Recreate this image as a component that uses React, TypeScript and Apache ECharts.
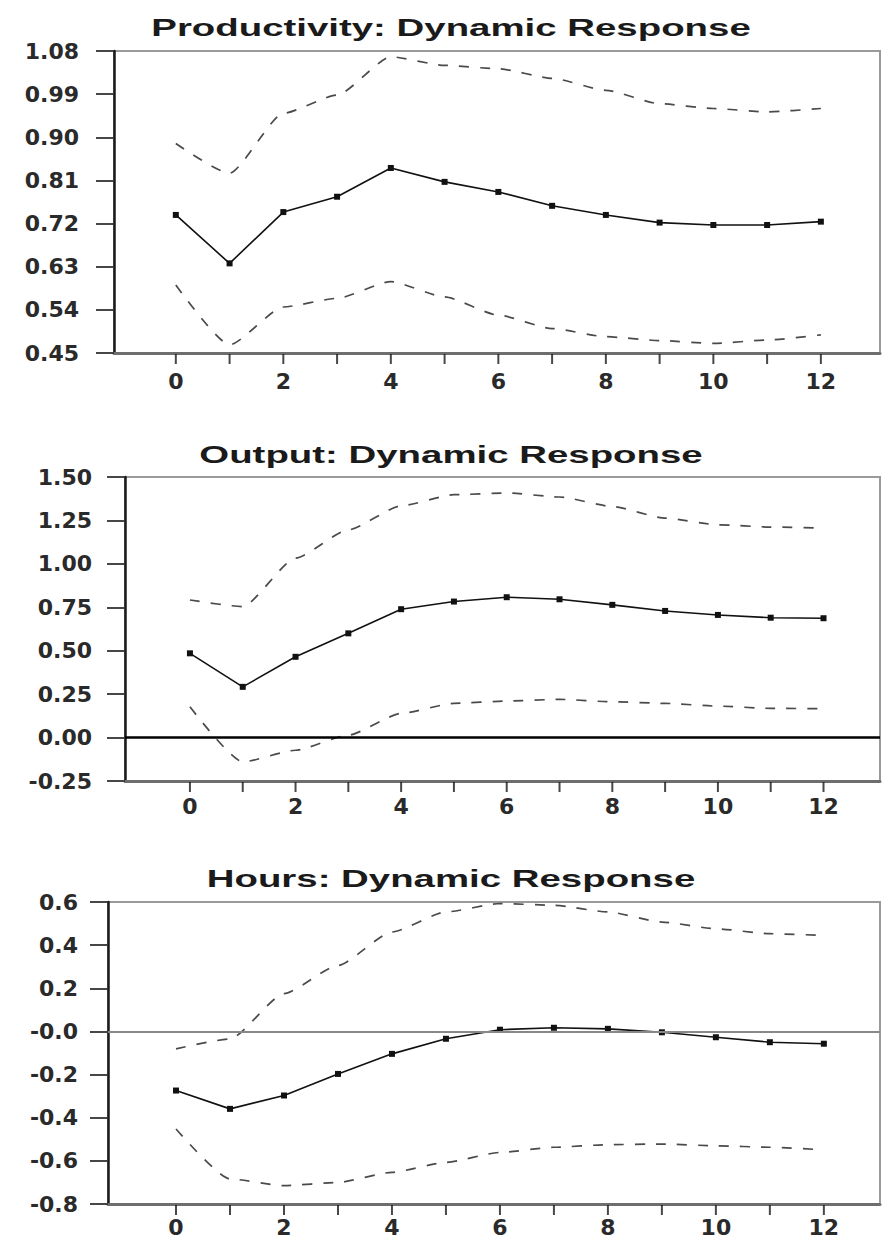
import React, { useEffect, useRef } from "react";
import * as echarts from "echarts";

// Horizon (quarters)
const periods = [0, 1, 2, 3, 4, 5, 6, 7, 8, 9, 10, 11, 12];
const xTickValues = [0, 1, 2, 3, 4, 5, 6, 7, 8, 9, 10, 11, 12];
const xLabelValues = [0, 2, 4, 6, 8, 10, 12];

// Panel 1: Productivity
const prodTitle = "Productivity: Dynamic Response";
const prodResponse = [0.738, 0.637, 0.744, 0.776, 0.836, 0.807, 0.786, 0.757, 0.738, 0.722, 0.717, 0.717, 0.724];
const prodUpper = [0.887, 0.825, 0.95, 0.988, 1.068, 1.05, 1.043, 1.023, 0.998, 0.97, 0.96, 0.953, 0.96];
const prodLower = [0.592, 0.467, 0.546, 0.564, 0.599, 0.567, 0.529, 0.501, 0.484, 0.476, 0.47, 0.477, 0.488];
const prodYTicks = [0.45, 1.08, 0.09]; // min, max, step

// Panel 2: Output
const outTitle = "Output: Dynamic Response";
const outResponse = [0.485, 0.292, 0.465, 0.6, 0.739, 0.783, 0.808, 0.796, 0.764, 0.729, 0.706, 0.69, 0.687];
const outUpper = [0.792, 0.754, 1.033, 1.196, 1.334, 1.398, 1.408, 1.385, 1.33, 1.263, 1.225, 1.212, 1.206];
const outLower = [0.177, -0.14, -0.073, 0.014, 0.139, 0.197, 0.21, 0.22, 0.206, 0.197, 0.181, 0.168, 0.166];
const outYTicks = [-0.25, 1.5, 0.25];

// Panel 3: Hours
const hoursTitle = "Hours: Dynamic Response";
const hoursResponse = [-0.274, -0.359, -0.297, -0.197, -0.104, -0.034, 0.008, 0.017, 0.012, -0.004, -0.027, -0.05, -0.057];
const hoursUpper = [-0.081, -0.035, 0.175, 0.306, 0.461, 0.554, 0.593, 0.585, 0.554, 0.507, 0.476, 0.453, 0.445];
const hoursLower = [-0.452, -0.684, -0.715, -0.7, -0.653, -0.607, -0.561, -0.537, -0.525, -0.522, -0.53, -0.537, -0.549];
const hoursYTicks = [-0.8, 0.6, 0.2];

const FONT = "DejaVu Sans";

export default function App() {
  const ref = useRef<HTMLDivElement>(null);

  useEffect(() => {
    if (!ref.current) return;
    const chart = echarts.init(ref.current, undefined, { renderer: "svg" });

    const panels = [
      {
        title: prodTitle, titleY: 28, resp: prodResponse, up: prodUpper, lo: prodLower, yt: prodYTicks,
        left: 114, top: 51, height: 302, xMin: -1.15, xMax: 13.1, yMargin: 35, xMargin: 17, decimals: 2, zero: null as null | { color: string; width: number },
      },
      {
        title: outTitle, titleY: 455, resp: outResponse, up: outUpper, lo: outLower, yt: outYTicks,
        left: 125, top: 477, height: 304, xMin: -1.23, xMax: 13.07, yMargin: 33, xMargin: 14, decimals: 2, zero: { color: "#000", width: 2.5 },
      },
      {
        title: hoursTitle, titleY: 879, resp: hoursResponse, up: hoursUpper, lo: hoursLower, yt: hoursYTicks,
        left: 108, top: 902, height: 302, xMin: -1.26, xMax: 13.04, yMargin: 30, xMargin: 12, decimals: 1, zero: { color: "#888", width: 2 },
      },
    ];

    const grid = panels.map((p) => ({
      left: p.left,
      top: p.top,
      width: 880 - p.left,
      height: p.height,
      show: true,
      borderColor: "#9a9a9a",
      borderWidth: 2,
      backgroundColor: "transparent",
    }));

    const xAxis = panels.map((p, i) => ({
      gridIndex: i,
      type: "value",
      min: p.xMin,
      max: p.xMax,
      splitLine: { show: false },
      axisLine: { show: true, onZero: false, lineStyle: { color: "#6e6e6e", width: 3 } },
      axisTick: { show: false },
      axisLabel: {
        customValues: xLabelValues,
        margin: p.xMargin,
        fontFamily: FONT,
        fontWeight: "bold",
        fontSize: 22,
        color: "#2a2a2a",
      },
    }));

    const yAxis = panels.map((p, i) => ({
      gridIndex: i,
      type: "value",
      min: p.yt[0],
      max: p.yt[1],
      interval: p.yt[2],
      splitLine: { show: false },
      axisLine: { show: true, onZero: false, lineStyle: { color: "#1a1a1a", width: 2.5 } },
      axisTick: { show: true, length: 18, lineStyle: { color: "#333", width: 1.8 } },
      axisLabel: {
        margin: p.yMargin,
        fontFamily: FONT,
        fontWeight: "bold",
        fontSize: 22,
        color: "#2a2a2a",
        formatter: (v: number) => {
          if (p.decimals === 1 && Math.abs(v) < 1e-9) return "-0.0";
          return v.toFixed(p.decimals);
        },
      },
    }));

    const series: any[] = [];
    panels.forEach((p, i) => {
      const toData = (arr: number[]) => periods.map((x, j) => [x, arr[j]]);
      const dashed = {
        type: "line",
        xAxisIndex: i,
        yAxisIndex: i,
        symbol: "none",
        smooth: 0.2,
        smoothMonotone: "x",
        lineStyle: { color: "#4a4a4a", width: 1.7, type: [10, 11] },
        z: 2,
      };
      series.push({ ...dashed, name: "upper" + i, data: toData(p.up) });
      series.push({ ...dashed, name: "lower" + i, data: toData(p.lo) });
      const main: any = {
        type: "line",
        name: "response" + i,
        xAxisIndex: i,
        yAxisIndex: i,
        data: toData(p.resp),
        symbol: "rect",
        symbolSize: 6,
        lineStyle: { color: "#111", width: 1.6 },
        itemStyle: { color: "#111" },
        z: 3,
      };
      if (p.zero) {
        main.markLine = {
          silent: true,
          symbol: ["none", "none"],
          label: { show: false },
          lineStyle: { color: p.zero.color, width: p.zero.width, type: "solid" },
          data: [{ yAxis: 0 }],
        };
      }
      series.push(main);
      // x-axis tick marks at every period, placed on the axis through the library's scales
      series.push({
        type: "scatter",
        name: "xticks" + i,
        xAxisIndex: i,
        yAxisIndex: i,
        data: xTickValues.map((x) => [x, p.yt[0]]),
        symbol: "rect",
        symbolSize: [2, 10],
        symbolOffset: [0, 6],
        clip: false,
        silent: true,
        itemStyle: { color: "#1a1a1a" },
        z: 5,
      });
    });

    const graphic = panels.map((p) => ({
      type: "text",
      x: 451,
      y: p.titleY,
      scaleX: 1.67,
      style: {
        text: p.title,
        fontFamily: "Liberation Sans",
        fontWeight: "bold",
        fontSize: 23,
        fill: "#1a1a1a",
        textAlign: "center",
        textVerticalAlign: "middle",
      },
    }));

    chart.setOption({
      animation: false,
      backgroundColor: "#fff",
      grid,
      xAxis,
      yAxis,
      series,
      graphic,
    });

    return () => chart.dispose();
  }, []);

  return (
    <div
      ref={ref}
      style={{ position: "fixed", left: 0, top: 0, width: 882, height: 1242, background: "#fff" }}
    />
  );
}
